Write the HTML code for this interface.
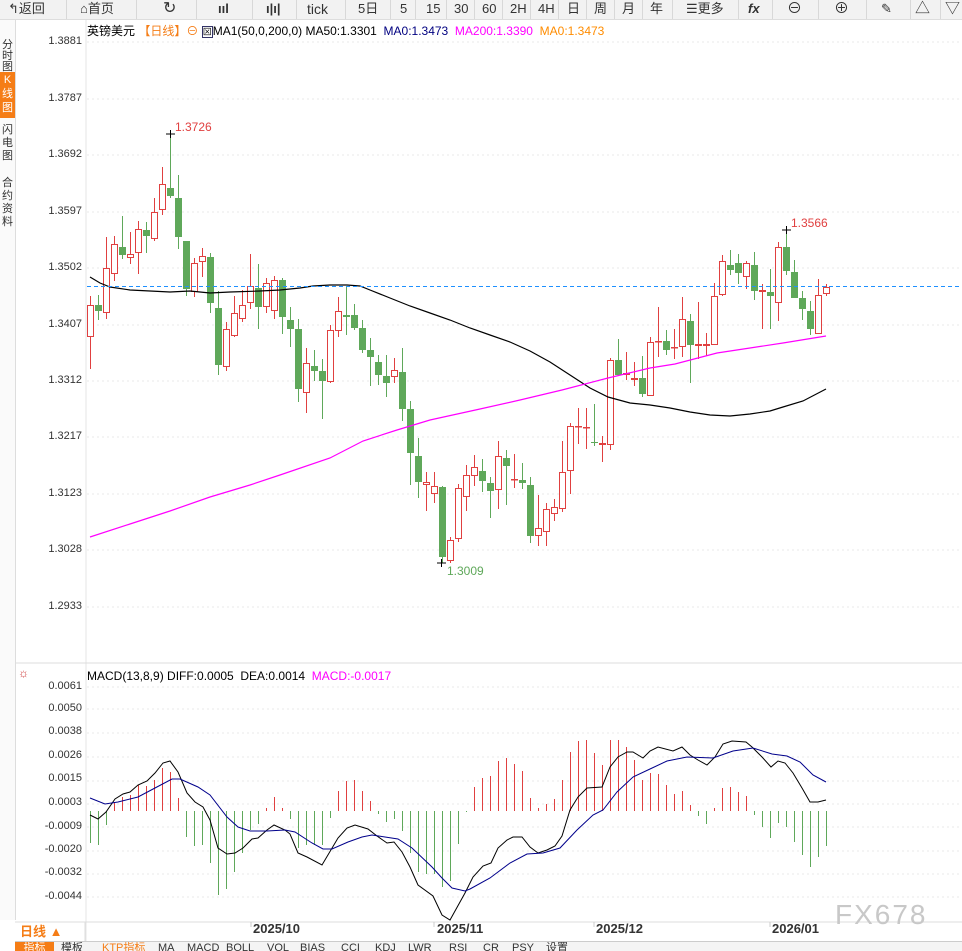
<!DOCTYPE html>
<html><head><meta charset="utf-8"><style>
body{margin:0;width:962px;height:950px;background:#fff;overflow:hidden;font-family:"Liberation Sans","Noto Sans CJK SC",sans-serif;position:relative}
.tb{position:absolute;left:0;top:0;width:962px;height:19px;background:#f2f2f2;border-bottom:1px solid #ddd}
.tb span{position:absolute;top:1px;font-size:13px;color:#333;line-height:16px}
.sep{position:absolute;top:0;width:1px;height:19px;background:#d8d8d8}
.side{position:absolute;left:0;top:20px;width:15px;height:900px;border-right:1px solid #ddd;background:#fafafa}
.side div{position:absolute;left:0;width:15px;font-size:11px;line-height:11px;text-align:center;color:#333}
.yl{position:absolute;right:880px;font-size:11px;color:#333;text-align:right}
.tabs{position:absolute;left:15px;top:941px;height:9px;width:947px;border-top:1px solid #ccc;background:#f4f4f4;overflow:hidden}
.tabs span{position:absolute;top:0;font-size:11px;line-height:12px;color:#333}
</style></head><body>
<div class="tb">
<span style="left:8px">↰返回</span><div class="sep" style="left:66px"></div>
<span style="left:80px">⌂首页</span><div class="sep" style="left:136px"></div>
<span style="left:163px;font-size:16px">↻</span><div class="sep" style="left:196px"></div>
<span style="left:218px;font-weight:bold">ııl</span><div class="sep" style="left:252px"></div>
<span style="left:266px;font-weight:bold">ı|ı|</span><div class="sep" style="left:296px"></div>
<span style="left:307px;font-size:14px">tick</span><div class="sep" style="left:345px"></div>
<span style="left:358px">5日</span><div class="sep" style="left:390px"></div>
<span style="left:400px">5</span><div class="sep" style="left:415px"></div>
<span style="left:426px">15</span><div class="sep" style="left:446px"></div>
<span style="left:454px">30</span><div class="sep" style="left:474px"></div>
<span style="left:482px">60</span><div class="sep" style="left:502px"></div>
<span style="left:510px">2H</span><div class="sep" style="left:530px"></div>
<span style="left:538px">4H</span><div class="sep" style="left:558px"></div>
<span style="left:567px">日</span><div class="sep" style="left:586px"></div>
<span style="left:594px">周</span><div class="sep" style="left:614px"></div>
<span style="left:622px">月</span><div class="sep" style="left:642px"></div>
<span style="left:650px">年</span><div class="sep" style="left:672px"></div>
<span style="left:686px">☰更多</span><div class="sep" style="left:738px"></div>
<span style="left:748px;font-weight:bold;font-style:italic">fx</span><div class="sep" style="left:772px"></div>
<span style="left:787px;font-size:15px">⊖</span><div class="sep" style="left:818px"></div>
<span style="left:834px;font-size:15px">⊕</span><div class="sep" style="left:866px"></div>
<span style="left:881px">✎</span><div class="sep" style="left:910px"></div>
<span style="left:915px;font-size:15px">△</span><div class="sep" style="left:940px"></div>
<span style="left:945px;font-size:15px">▽</span>
</div>
<div class="side">
<div style="top:20px">分<br>时<br>图</div>
<div style="top:52px;background:#f57d16;color:#fff;height:45px;line-height:14px;padding-top:1px">K<br>线<br>图</div>
<div style="top:104px;line-height:13px">闪<br>电<br>图</div>
<div style="top:157px;line-height:13px">合<br>约<br>资<br>料</div>
</div>
<div style="position:absolute;left:87px;top:22px;font-size:12px;white-space:nowrap;color:#000">英镑美元 <span style="color:#f57d16">【日线】</span><span style="color:#f57d16">⊖</span> <span style="border:1px solid #336;font-size:9px">⊠</span>MA1(50,0,200,0) MA50:1.3301 &nbsp;<span style="color:#000080">MA0:1.3473</span> &nbsp;<span style="color:#ff00ff">MA200:1.3390</span> &nbsp;<span style="color:#ff8c00">MA0:1.3473</span></div>
<div class="yl" style="top:35px">1.3881</div><div class="yl" style="top:92px">1.3787</div><div class="yl" style="top:148px">1.3692</div><div class="yl" style="top:205px">1.3597</div><div class="yl" style="top:261px">1.3502</div><div class="yl" style="top:318px">1.3407</div><div class="yl" style="top:374px">1.3312</div><div class="yl" style="top:430px">1.3217</div><div class="yl" style="top:487px">1.3123</div><div class="yl" style="top:543px">1.3028</div><div class="yl" style="top:600px">1.2933</div>
<div style="position:absolute;left:18px;top:666px;color:#c33;font-size:12px">☼</div>
<div style="position:absolute;left:87px;top:669px;font-size:12px;white-space:nowrap">MACD(13,8,9) DIFF:0.0005 &nbsp;DEA:0.0014 &nbsp;<span style="color:#ff00ff">MACD:-0.0017</span></div>
<div class="yl" style="top:680px">0.0061</div><div class="yl" style="top:702px">0.0050</div><div class="yl" style="top:725px">0.0038</div><div class="yl" style="top:749px">0.0026</div><div class="yl" style="top:772px">0.0015</div><div class="yl" style="top:796px">0.0003</div><div class="yl" style="top:820px">-0.0009</div><div class="yl" style="top:843px">-0.0020</div><div class="yl" style="top:866px">-0.0032</div><div class="yl" style="top:890px">-0.0044</div>
<svg id="s" width="962" height="950" style="position:absolute;left:0;top:0" xmlns="http://www.w3.org/2000/svg">
<line x1="86" y1="20" x2="86" y2="942" stroke="#e4e4e4"/>
<line x1="15" y1="663" x2="962" y2="663" stroke="#ddd"/>
<line x1="15" y1="922" x2="962" y2="922" stroke="#ddd"/>
<line x1="85" y1="922" x2="85" y2="941" stroke="#ddd"/>
<g id="g"></g>
<text x="175" y="131" font-size="12" fill="#e04040" font-family="Liberation Sans">1.3726</text>
<text x="791" y="227" font-size="12" fill="#e04040" font-family="Liberation Sans">1.3566</text>
<text x="447" y="575" font-size="12" fill="#5fa85a" font-family="Liberation Sans">1.3009</text>
<text x="253" y="933" font-size="13" font-weight="bold" fill="#333" font-family="Liberation Sans">2025/10</text>
<text x="437" y="933" font-size="13" font-weight="bold" fill="#333" font-family="Liberation Sans">2025/11</text>
<text x="596" y="933" font-size="13" font-weight="bold" fill="#333" font-family="Liberation Sans">2025/12</text>
<text x="772" y="933" font-size="13" font-weight="bold" fill="#333" font-family="Liberation Sans">2026/01</text>
<text x="20" y="936" font-size="13" font-weight="bold" fill="#f57d16" font-family="Liberation Sans,Noto Sans CJK SC,sans-serif">日线 ▲</text>
<text x="835" y="924" font-size="28" fill="#c8c8c8" letter-spacing="2" font-family="Liberation Sans">FX678</text>
</svg>
<div class="tabs">
<span style="left:0;width:39px;background:#f57d16;color:#fff;text-align:center">指标</span>
<span style="left:46px">模板</span><span style="left:87px;color:#f57d16">KTP指标</span><span style="left:143px">MA</span><span style="left:172px">MACD</span><span style="left:211px">BOLL</span><span style="left:252px">VOL</span><span style="left:285px">BIAS</span><span style="left:326px">CCI</span><span style="left:360px">KDJ</span><span style="left:393px">LWR</span><span style="left:434px">RSI</span><span style="left:468px">CR</span><span style="left:497px">PSY</span><span style="left:531px">设置</span>
</div>
<script>
var C=[[296,305,337,369,1],[295,305,311,320,0],[237,268,313,319,1],[236,244,274,281,1],[216,247,255,259,0],[232,254,258,264,1],[221,229,253,274,1],[222,230,236,253,0],[198,212,239,241,1],[167,184,210,215,1],[134,188,196,198,0],[175,198,237,249,0],[241,241,289,296,0],[258,263,292,297,1],[248,256,262,277,1],[253,257,303,313,0],[291,308,365,375,0],[322,329,367,371,1],[296,313,336,337,1],[290,305,319,322,1],[254,286,303,309,1],[264,288,307,329,0],[278,283,307,313,1],[276,280,311,319,1],[278,280,317,334,0],[307,320,329,347,0],[319,329,389,402,0],[348,363,393,413,1],[350,366,371,381,0],[359,371,381,419,0],[325,330,382,383,1],[297,311,331,337,1],[286,315,317,335,0],[304,315,328,330,0],[320,328,350,353,0],[338,350,357,386,0],[355,362,375,385,0],[355,376,383,397,0],[358,370,377,383,1],[348,372,409,421,0],[401,409,453,485,0],[438,456,482,498,0],[472,482,485,511,1],[472,486,494,503,1],[486,487,557,563,0],[537,540,561,563,1],[484,488,539,542,1],[465,475,497,511,1],[455,467,476,486,1],[459,471,481,492,0],[477,483,491,518,0],[441,456,490,509,1],[450,458,466,505,0],[454,479,480,488,1],[463,480,483,489,0],[477,485,536,543,0],[495,528,536,546,1],[503,509,532,546,1],[499,507,514,521,1],[441,472,509,512,1],[423,426,471,494,1],[408,426,427,444,1],[408,427,428,449,1],[404,442,443,446,0],[436,443,445,462,1],[358,360,445,450,1],[339,360,375,375,0],[352,373,375,380,1],[362,378,380,386,1],[356,378,394,397,0],[337,342,396,396,1],[307,341,342,357,1],[330,341,350,355,0],[329,347,348,359,1],[297,319,347,357,1],[314,321,345,383,0],[302,344,346,359,1],[333,344,346,356,1],[283,296,345,345,1],[255,261,295,296,1],[250,265,270,275,0],[254,263,273,284,0],[261,263,277,289,1],[252,265,291,300,0],[284,290,292,329,1],[269,292,296,329,0],[242,247,303,321,1],[230,247,271,275,0],[260,272,298,298,0],[291,298,309,320,0],[301,311,329,335,0],[279,295,334,334,1],[284,287,294,296,1]];
var H=[843,845,825,803,797,795,785,786,780,768,772,798,837,846,845,863,895,889,872,853,830,824,808,797,808,819,848,845,845,845,818,791,781,780,791,801,814,822,819,831,853,872,874,874,887,881,844,812,787,778,776,761,758,764,771,798,808,804,799,780,752,741,740,753,765,740,740,747,760,780,773,774,785,794,791,805,816,824,808,788,787,792,796,815,827,838,823,827,842,855,867,857,846];
var DIFF="90,815 98,819 106,812 115,799 123,794 130,792 138,785 147,781 155,773 163,763 170,761 178,772 187,793 195,802 203,807 210,820 218,848 227,854 235,853 243,848 252,839 258,838 267,830 274,825 285,830 290,834 298,853 307,857 322,865 338,838 347,828 355,825 368,829 377,836 387,843 394,842 402,852 410,867 418,885 433,896 442,915 450,920 465,893 473,877 483,866 491,863 498,848 507,840 513,837 522,837 530,847 538,853 547,850 555,846 562,836 570,810 578,797 587,788 602,787 610,767 618,757 627,752 633,752 643,758 650,751 658,747 673,751 682,747 690,755 698,760 707,765 715,757 723,744 732,741 746,742 752,747 762,757 771,767 778,761 785,763 793,773 802,788 810,802 818,802 826,800";
var DEA="90,798 105,804 118,802 138,797 155,788 172,779 180,779 198,787 210,795 227,817 238,827 250,831 267,831 285,830 295,832 312,843 323,849 332,849 348,842 362,837 372,835 385,837 398,839 412,848 432,867 442,878 452,888 465,891 470,889 490,878 510,863 527,854 543,853 560,848 577,830 593,815 603,810 617,792 633,777 650,769 667,761 687,757 713,758 733,751 753,748 772,754 787,756 800,762 813,775 826,782";
var MA50="90,277 100,283 110,287 130,290 150,291 170,292 190,291 210,293 230,292 260,291 280,290 300,288 313,286 330,285 347,285 360,286 370,290 390,298 410,306 430,313 450,320 470,328 490,335 510,342 530,351 550,362 570,375 590,388 608,397 630,403 650,405 670,408 690,412 710,415 730,416 750,414 770,411 783,407 803,401 826,389";
var MA200="90,537 130,524 170,511 210,497 250,485 280,475 330,458 363,441 397,430 430,420 480,409 520,400 562,390 608,378 650,368 675,364 717,353 750,348 783,343 826,336";
var o='';
[42,99,155,212,268,325,381,437,494,550,607].forEach(function(y){o+='<line x1="87" x2="962" y1="'+y+'" y2="'+y+'" stroke="#e8e8e8" stroke-dasharray="2,3"/>';});
[687,709,733,757,781,804,827,851,874,897].forEach(function(y){o+='<line x1="87" x2="962" y1="'+y+'" y2="'+y+'" stroke="#e8e8e8" stroke-dasharray="2,3"/>';});
[251,434,594,770].forEach(function(x){o+='<line x1="'+x+'" x2="'+x+'" y1="922" y2="927" stroke="#ccc"/>';});
C.forEach(function(c,i){var x=90+8*i;var col=c[4]?'#e04040':'#5fa85a';
o+='<line x1="'+(x+0.5)+'" x2="'+(x+0.5)+'" y1="'+c[0]+'" y2="'+c[3]+'" stroke="'+col+'"/>';
var h=Math.max(c[2]-c[1],1);
if(c[4])o+='<rect x="'+(x-2.5)+'" y="'+(c[1]+0.5)+'" width="6" height="'+Math.max(h-1,0.5)+'" fill="#fff" stroke="'+col+'"/>';
else o+='<rect x="'+(x-3)+'" y="'+c[1]+'" width="7" height="'+h+'" fill="'+col+'"/>';});
H.forEach(function(v,i){var x=90.5+8*i;o+='<line x1="'+x+'" x2="'+x+'" y1="811" y2="'+v+'" stroke="'+(v<811?'#e04040':'#5fa85a')+'"/>';});
o+='<polyline points="'+MA50+'" fill="none" stroke="#000" stroke-width="1.2"/>';
o+='<polyline points="'+MA200+'" fill="none" stroke="#ff00ff" stroke-width="1.2"/>';
o+='<line x1="87" x2="962" y1="286.5" y2="286.5" stroke="#1e90ff" stroke-dasharray="4,3"/>';
o+='<polyline points="'+DIFF+'" fill="none" stroke="#000" stroke-width="1"/>';
o+='<polyline points="'+DEA+'" fill="none" stroke="#00008b" stroke-width="1"/>';
o+='<path d="M166 134h9M170.5 130v8M437 563h9M441.5 559v8M782 230h9M786.5 226v8" stroke="#000"/>';
document.getElementById('g').innerHTML=o;
</script>
</body></html>
